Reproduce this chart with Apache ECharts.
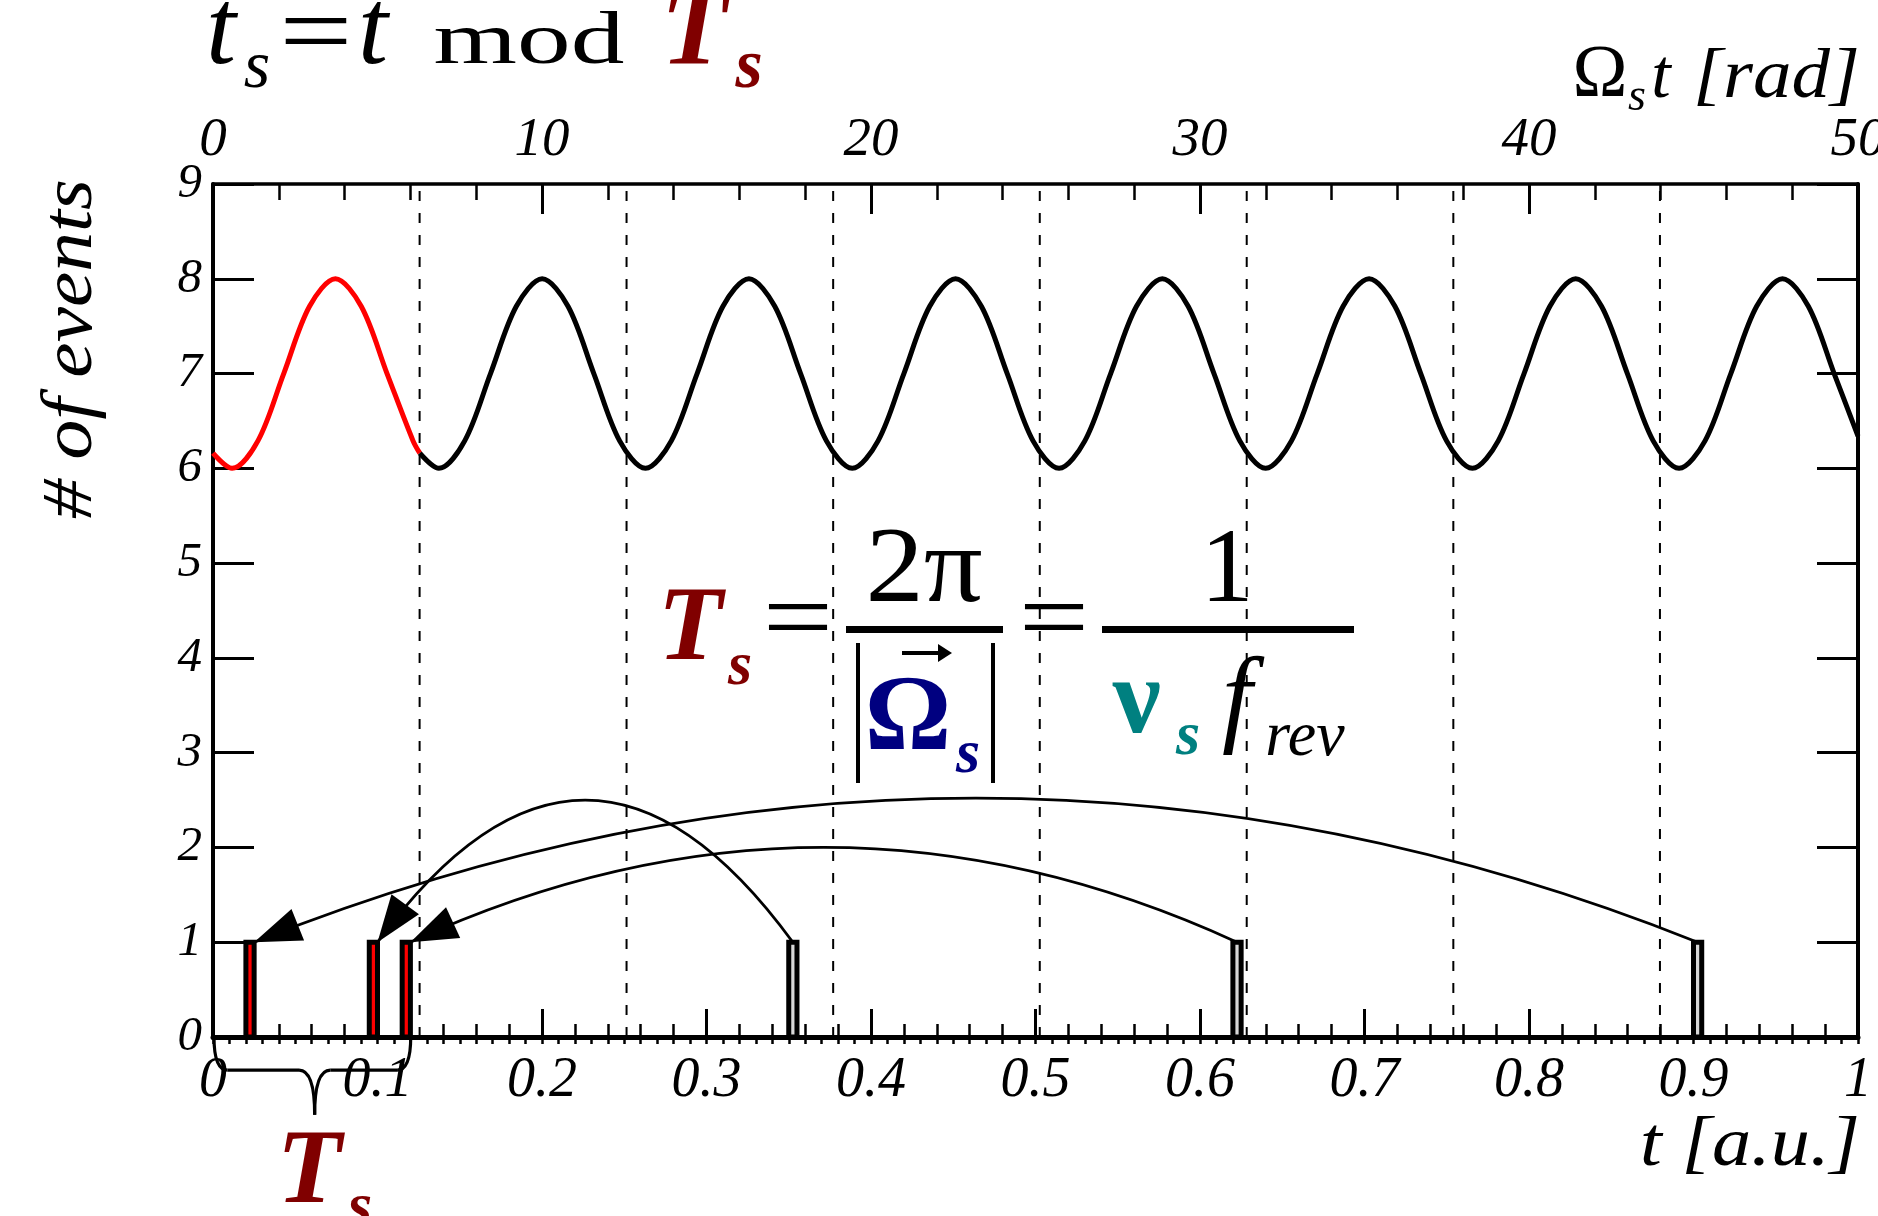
<!DOCTYPE html>
<html><head><meta charset="utf-8">
<script src="https://cdn.jsdelivr.net/npm/echarts@6/dist/echarts.min.js"></script>
<style>html,body{margin:0;padding:0;background:#fff}#c{width:1878px;height:1216px}</style>
</head><body><div id="c"></div>
<script>
// ---------------- data ----------------
// first period (red) of the event-rate curve: t [a.u.] and # of events
const redCurveT = [0, 0.0116, 0.0273, 0.0430, 0.0587, 0.0744, 0.0901, 0.1058, 0.1216, 0.1257];
const redCurveY = [6.16, 6.00, 6.29, 7.00, 7.71, 8.00, 7.71, 7.00, 6.29, 6.16];
// remaining periods (black)
const blackCurveT = [0.1257, 0.1373, 0.1530, 0.1687, 0.1844, 0.2001, 0.2158, 0.2315, 0.2472,
  0.2629, 0.2786, 0.2943, 0.3100, 0.3258, 0.3415, 0.3572, 0.3729,
  0.3886, 0.4043, 0.4200, 0.4357, 0.4514, 0.4671, 0.4828, 0.4985,
  0.5143, 0.5300, 0.5457, 0.5614, 0.5771, 0.5928, 0.6085, 0.6242,
  0.6399, 0.6556, 0.6713, 0.6870, 0.7028, 0.7185, 0.7342, 0.7499,
  0.7656, 0.7813, 0.7970, 0.8127, 0.8284, 0.8441, 0.8598, 0.8755,
  0.8912, 0.9070, 0.9227, 0.9384, 0.9541, 0.9698, 0.9855, 1.0];
const blackCurveY = [6.16, 6.00, 6.29, 7.00, 7.71, 8.00, 7.71, 7.00, 6.29,
  6.00, 6.29, 7.00, 7.71, 8.00, 7.71, 7.00, 6.29,
  6.00, 6.29, 7.00, 7.71, 8.00, 7.71, 7.00, 6.29,
  6.00, 6.29, 7.00, 7.71, 8.00, 7.71, 7.00, 6.29,
  6.00, 6.29, 7.00, 7.71, 8.00, 7.71, 7.00, 6.29,
  6.00, 6.29, 7.00, 7.71, 8.00, 7.71, 7.00, 6.29,
  6.00, 6.29, 7.00, 7.71, 8.00, 7.71, 7.00, 6.34];
// histogram bins (lower edge), bin width, counts
const binWidth = 0.005;
const foldedBinLow = [0.020, 0.095, 0.115];   // red-filled (folded into first period)
const foldedBinCount = [1, 1, 1];
const eventBinLow = [0.350, 0.620, 0.900];    // original events
const eventBinCount = [1, 1, 1];
// dashed lines at multiples of T_s, in units of Omega_s t [rad]
const periodLinesRad = [6.28, 12.57, 18.85, 25.13, 31.42, 37.70, 43.98];
// curved arrows: from event bin (t), to folded bin (t), peak height
const arcFromT = [0.3525, 0.6225, 0.9025];
const arcToT = [0.100, 0.120, 0.025];
const arcPeak = [2.5, 2.0, 2.52];
// brace under the first period: t nodes and depth (in # of events units)
const braceT = [0.0006, 0.0089, 0.0523, 0.0618, 0.0713, 0.1119, 0.1202];
const braceV = [0, -0.35, -0.35, -0.82, -0.35, -0.35, 0];
// tick labels
const xTickLabels = ['0', '0.1', '0.2', '0.3', '0.4', '0.5', '0.6', '0.7', '0.8', '0.9', '1'];
const topTickLabels = ['0', '10', '20', '30', '40', '50'];
const yTickLabels = ['0', '1', '2', '3', '4', '5', '6', '7', '8', '9'];

// ---------------- chart ----------------
const SERIF = "'Liberation Serif','Times New Roman',serif";
const chart = echarts.init(document.getElementById('c'), null, {renderer: 'canvas'});

function txt(text, x, baseline, fs, o) {
  o = o || {};
  return {
    type: 'text', x: x, y: baseline - 0.27 * fs, scaleX: o.sx || 1, scaleY: o.sy || 1, z: 100,
    style: {
      text: text, fontFamily: SERIF, fontSize: fs,
      fontStyle: o.it ? 'italic' : 'normal', fontWeight: o.b ? 'bold' : 'normal',
      fill: o.c || '#000', align: o.al || 'center', verticalAlign: 'middle',
      textAlign: o.al || 'center', textVerticalAlign: 'middle'
    }
  };
}

const DARKRED = '#800000', NAVY = '#000080', TEAL = '#008080';

const graphics = [
  // title  t_s = t mod T_s
  txt('t', 221, 64, 108, {it: 1}),
  txt('s', 257, 87, 68, {it: 1}),
  txt('=', 316, 67, 104, {sx: 1.25}),
  txt('t', 373, 64, 108, {it: 1}),
  txt('mod', 529, 64, 74, {sx: 1.45}),
  txt('T', 694, 64, 108, {it: 1, b: 1, c: DARKRED}),
  txt('s', 749, 88, 70, {it: 1, b: 1, c: DARKRED}),
  // top axis title
  txt('\u03A9', 1600, 97, 74),
  txt('s', 1637, 110, 46, {it: 1}),
  txt('t', 1661, 97, 70, {it: 1}),
  txt('[rad]', 1860, 97, 70, {it: 1, al: 'right', sx: 1.1}),
  // bottom axis title
  txt('t [a.u.]', 1860, 1165, 70, {it: 1, al: 'right', sx: 1.12}),
  // y axis title
  {type: 'text', x: 72, y: 349, rotation: Math.PI / 2, scaleX: 1.12, z: 100,
   style: {text: '# of events', fontFamily: SERIF, fontSize: 71, fontStyle: 'italic', fill: '#000',
           align: 'center', verticalAlign: 'middle', textAlign: 'center', textVerticalAlign: 'middle'}},
  // formula T_s = 2pi/|Omega_s| = 1/(nu_s f_rev)
  txt('T', 690, 660, 106, {it: 1, b: 1, c: DARKRED}),
  txt('s', 740, 685, 62, {it: 1, b: 1, c: DARKRED}),
  txt('=', 798, 653, 104, {sx: 1.2}),
  txt('2\u03C0', 924, 602, 108, {sx: 1.08}),
  {type: 'line', z: 100, shape: {x1: 846, y1: 629.5, x2: 1003, y2: 629.5}, style: {stroke: '#000', lineWidth: 7}},
  {type: 'line', z: 100, shape: {x1: 858, y1: 643, x2: 858, y2: 783}, style: {stroke: '#000', lineWidth: 4}},
  {type: 'line', z: 100, shape: {x1: 993, y1: 643, x2: 993, y2: 783}, style: {stroke: '#000', lineWidth: 4}},
  {type: 'line', z: 100, shape: {x1: 902, y1: 653, x2: 942, y2: 653}, style: {stroke: '#000', lineWidth: 4}},
  {type: 'polygon', z: 100, shape: {points: [[938, 644], [952, 653], [938, 662]]}, style: {fill: '#000'}},
  txt('\u03A9', 908, 750, 108, {b: 1, c: NAVY}),
  txt('s', 968, 773, 62, {it: 1, b: 1, c: NAVY}),
  txt('=', 1054, 653, 104, {sx: 1.2}),
  {type: 'line', z: 100, shape: {x1: 1102, y1: 629.5, x2: 1354, y2: 629.5}, style: {stroke: '#000', lineWidth: 7}},
  txt('1', 1227, 602, 106),
  txt('\u03BD', 1137, 733, 108, {b: 1, c: TEAL}),
  txt('s', 1188, 755, 62, {it: 1, b: 1, c: TEAL}),
  txt('f', 1237, 733, 108, {it: 1}),
  txt('rev', 1305, 755, 64, {it: 1}),
  // T_s under the brace
  txt('T', 309, 1203, 106, {it: 1, b: 1, c: DARKRED}),
  txt('s', 360, 1226, 62, {it: 1, b: 1, c: DARKRED})
];

const axisFont = {fontFamily: SERIF, fontStyle: 'italic', color: '#000'};

const binData = foldedBinLow.map((lo, i) => [lo, lo + binWidth, foldedBinCount[i], 1])
  .concat(eventBinLow.map((lo, i) => [lo, lo + binWidth, eventBinCount[i], 0]));
const arcData = arcFromT.map((f, i) => [f, arcToT[i], arcPeak[i]]);

const option = {
  backgroundColor: '#fff',
  animation: false,
  grid: {left: 213, right: 20, top: 184, bottom: 179, containLabel: false, outerBoundsMode: 'none'},
  xAxis: [
    {type: 'value', position: 'bottom', min: 0, max: 1, interval: 0.1,
     axisLine: {show: true, onZero: false, lineStyle: {color: '#000', width: 5}},
     axisTick: {show: true, inside: true, length: 28, lineStyle: {color: '#000', width: 3}},
     minorTick: {show: true, splitNumber: 5, length: 13, lineStyle: {color: '#000', width: 2.5}},
     axisLabel: Object.assign({margin: 16, fontSize: 56, formatter: v => xTickLabels[Math.round(v * 10)]}, axisFont),
     splitLine: {show: false}},
    {type: 'value', position: 'top', min: 0, max: 50, interval: 10,
     axisLine: {show: true, onZero: false, lineStyle: {color: '#000', width: 3.5}},
     axisTick: {show: true, inside: true, length: 30, lineStyle: {color: '#000', width: 3}},
     minorTick: {show: true, splitNumber: 5, length: 16, lineStyle: {color: '#000', width: 2.5}},
     axisLabel: Object.assign({margin: 16, fontSize: 55, formatter: v => topTickLabels[Math.round(v / 10)]}, axisFont),
     splitLine: {show: false}},
    {type: 'value', position: 'top', min: 0, max: 50, interval: 0.5,
     axisLine: {show: false}, axisLabel: {show: false}, splitLine: {show: false},
     axisTick: {show: true, inside: true, length: 7, lineStyle: {color: '#000', width: 2.5}}}
  ],
  yAxis: [
    {type: 'value', position: 'left', min: 0, max: 9, interval: 1,
     axisLine: {show: true, onZero: false, lineStyle: {color: '#000', width: 4}},
     axisTick: {show: true, inside: true, length: 41, lineStyle: {color: '#000', width: 3}},
     axisLabel: Object.assign({margin: 11, fontSize: 49, formatter: v => yTickLabels[Math.round(v)]}, axisFont),
     splitLine: {show: false}},
    {type: 'value', position: 'right', min: 0, max: 9, interval: 1,
     axisLine: {show: true, onZero: false, lineStyle: {color: '#000', width: 4}},
     axisTick: {show: true, inside: true, length: 41, lineStyle: {color: '#000', width: 3}},
     axisLabel: {show: false}, splitLine: {show: false}}
  ],
  series: [
    {type: 'custom', name: 'periods', xAxisIndex: 1, yAxisIndex: 0, z: 1,
     data: periodLinesRad.map(r => [r]), encode: {x: 0},
     renderItem: function (params, api) {
       const r = api.value(0);
       const a = api.coord([r, 0]), b = api.coord([r, 9]);
       return {type: 'line', shape: {x1: a[0], y1: a[1], x2: b[0], y2: b[1]},
               style: {stroke: '#000', lineWidth: 2, lineDash: [10, 12]}};
     }},
    {type: 'line', name: 'first period', xAxisIndex: 0, yAxisIndex: 0, z: 3,
     data: redCurveT.map((t, i) => [t, redCurveY[i]]), smooth: 0.33, showSymbol: false,
     lineStyle: {color: '#ff0000', width: 5}, itemStyle: {color: '#ff0000'}},
    {type: 'line', name: 'signal', xAxisIndex: 0, yAxisIndex: 0, z: 3,
     data: blackCurveT.map((t, i) => [t, blackCurveY[i]]), smooth: 0.33, showSymbol: false,
     lineStyle: {color: '#000', width: 5}, itemStyle: {color: '#000'}},
    {type: 'custom', name: 'events', xAxisIndex: 0, yAxisIndex: 0, z: 4,
     data: binData, encode: {x: [0, 1], y: 2},
     renderItem: function (params, api) {
       const lo = api.value(0), hi = api.value(1), n = api.value(2), kind = api.value(3);
       const a = api.coord([lo, 0]), b = api.coord([hi, n]);
       return {type: 'rect', shape: {x: a[0], y: b[1], width: b[0] - a[0], height: a[1] - b[1]},
               style: {fill: kind === 1 ? '#ff0000' : '#d8d8d8', stroke: '#000', lineWidth: 5}};
     }},
    {type: 'custom', name: 'arrows', xAxisIndex: 0, yAxisIndex: 0, z: 5,
     data: arcData, encode: {x: [0, 1], y: 2},
     renderItem: function (params, api) {
       const f = api.value(0), t = api.value(1), pk = api.value(2);
       const p0 = api.coord([f, 1]), p1 = api.coord([t, 1]);
       const c = api.coord([(f + t) / 2, 2 * pk - 1]);
       const dx = p1[0] - c[0], dy = p1[1] - c[1], L = Math.hypot(dx, dy);
       const ux = dx / L, uy = dy / L, len = 47, hw = 17;
       const bx = p1[0] - ux * len, by = p1[1] - uy * len;
       return {type: 'group', children: [
         {type: 'bezierCurve', shape: {x1: p0[0], y1: p0[1], x2: p1[0], y2: p1[1], cpx1: c[0], cpy1: c[1]},
          style: {stroke: '#000', lineWidth: 2.8, fill: null}},
         {type: 'polygon', shape: {points: [[p1[0], p1[1]], [bx - uy * hw, by + ux * hw], [bx + uy * hw, by - ux * hw]]},
          style: {fill: '#000'}}
       ]};
     }},
    {type: 'custom', name: 'brace', xAxisIndex: 0, yAxisIndex: 0, z: 5, clip: false,
     data: [[0, 0]], encode: {x: 0, y: 1},
     renderItem: function (params, api) {
       const P = braceT.map((t, i) => api.coord([t, braceV[i]]));
       const st = {stroke: '#000', lineWidth: 3.2, fill: null};
       const q = (a, b, cx, cy) => ({type: 'bezierCurve', shape: {x1: a[0], y1: a[1], x2: b[0], y2: b[1], cpx1: cx, cpy1: cy}, style: st});
       const l = (a, b) => ({type: 'line', shape: {x1: a[0], y1: a[1], x2: b[0], y2: b[1]}, style: st});
       return {type: 'group', children: [
         q(P[0], P[1], P[0][0], P[1][1]),
         l(P[1], P[2]),
         q(P[2], P[3], P[3][0], P[2][1]),
         q(P[3], P[4], P[3][0], P[4][1]),
         l(P[4], P[5]),
         q(P[5], P[6], P[6][0], P[5][1])
       ]};
     }}
  ],
  graphic: {elements: graphics}
};
chart.setOption(option);
</script>
</body></html>
